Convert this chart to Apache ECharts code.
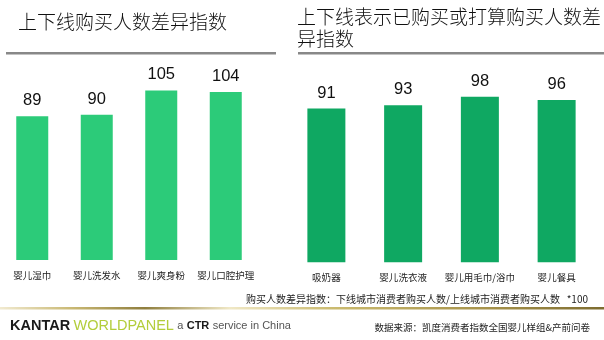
<!DOCTYPE html>
<html>
<head>
<meta charset="utf-8">
<script src="https://cdn.jsdelivr.net/npm/echarts@6/dist/echarts.min.js"></script>
<style>
  html, body { margin: 0; padding: 0; background: #ffffff; }
  #chart { width: 604px; height: 340px; }
</style>
</head>
<body>
<div id="chart"></div>
<script>
// Left panel: purchaser-count difference index
var leftCategories = ['婴儿湿巾', '婴儿洗发水', '婴儿爽身粉', '婴儿口腔护理'];
var leftValues = [89, 90, 105, 104];

// Right panel: index among those who have bought or plan to buy
var rightCategories = ['吸奶器', '婴儿洗衣液', '婴儿用毛巾/浴巾', '婴儿餐具'];
var rightValues = [91, 93, 98, 96];

var leftTitle = '上下线购买人数差异指数';
var rightTitle = '上下线表示已购买或打算购买人数差\n异指数';
var noteText = '购买人数差异指数：下线城市消费者购买人数/上线城市消费者购买人数   *100';
var sourceText = '数据来源：凯度消费者指数全国婴儿样组&产前问卷';

var CJK = '"Noto Sans CJK SC", "Noto Sans", sans-serif';
var LATIN = 'Arial, "Liberation Sans", sans-serif';

var chart = echarts.init(document.getElementById('chart'), null, { renderer: 'canvas' });

function catAxis(gridIndex, data, margin) {
  return {
    type: 'category',
    gridIndex: gridIndex,
    data: data,
    axisLine: { show: false },
    axisTick: { show: false },
    axisLabel: {
      color: '#222',
      fontSize: 9.5,
      fontFamily: CJK,
      margin: margin,
      interval: 0
    }
  };
}

function valAxis(gridIndex, max) {
  return {
    type: 'value',
    gridIndex: gridIndex,
    min: 0,
    max: max,
    show: false,
    splitLine: { show: false }
  };
}

function barSeries(idx, values, color, width) {
  return {
    type: 'bar',
    xAxisIndex: idx,
    yAxisIndex: idx,
    data: values,
    barWidth: width,
    itemStyle: { color: color },
    label: {
      show: true,
      position: 'top',
      distance: 7,
      color: '#111',
      fontSize: 16.5,
      fontFamily: LATIN
    },
    silent: true
  };
}

var goldGradient = new echarts.graphic.LinearGradient(0, 0, 1, 0, [
  { offset: 0.00, color: '#f1ead0' },
  { offset: 0.12, color: '#c9b873' },
  { offset: 0.24, color: '#8f7e3e' },
  { offset: 0.38, color: '#f0e8c6' },
  { offset: 0.55, color: '#cbbb70' },
  { offset: 0.80, color: '#a8944c' },
  { offset: 1.00, color: '#7d6c30' }
]);

chart.setOption({
  animation: false,
  backgroundColor: '#ffffff',
  grid: [
    { left: 0, width: 258, top: 66.2, bottom: 80 },
    { left: 288, width: 307, top: 76.4, bottom: 77.7 }
  ],
  xAxis: [catAxis(0, leftCategories, 11), catAxis(1, rightCategories, 10)],
  yAxis: [valAxis(0, 120), valAxis(1, 110)],
  series: [
    barSeries(0, leftValues, '#2ccb79', 32),
    barSeries(1, rightValues, '#0fa862', 38)
  ],
  graphic: [
    {
      type: 'text', left: 18, top: 12,
      style: { text: leftTitle, fill: '#111', font: '300 19px ' + CJK }
    },
    {
      type: 'rect', shape: { x: 6, y: 52, width: 270, height: 2.5 },
      style: { fill: '#888888' }
    },
    {
      type: 'text', left: 297, top: 6,
      style: { text: rightTitle, fill: '#111', font: '300 19px ' + CJK, lineHeight: 22 }
    },
    {
      type: 'rect', shape: { x: 298, y: 52, width: 306, height: 2.5 },
      style: { fill: '#888888' }
    },
    {
      type: 'text', right: 16, top: 294,
      style: { text: noteText, fill: '#222', font: '10px ' + CJK }
    },
    {
      type: 'rect', shape: { x: 0, y: 307, width: 604, height: 2.5 },
      style: { fill: goldGradient }
    },
    {
      type: 'text', left: 10, top: 318,
      style: {
        text: '{k|KANTAR} {w|WORLDPANEL} {a|a} {c|CTR} {a|service in China}',
        rich: {
          k: { fontFamily: LATIN, fontSize: 14.5, fontWeight: 'bold', fill: '#1a1a1a' },
          w: { fontFamily: LATIN, fontSize: 14.5, fill: '#b3cd3a' },
          a: { fontFamily: LATIN, fontSize: 11, fill: '#555555' },
          c: { fontFamily: LATIN, fontSize: 11, fontWeight: 'bold', fill: '#1a1a1a' }
        }
      }
    },
    {
      type: 'text', right: 14, top: 323,
      style: { text: sourceText, fill: '#222', font: '9.5px ' + CJK }
    }
  ]
});
</script>
</body>
</html>
